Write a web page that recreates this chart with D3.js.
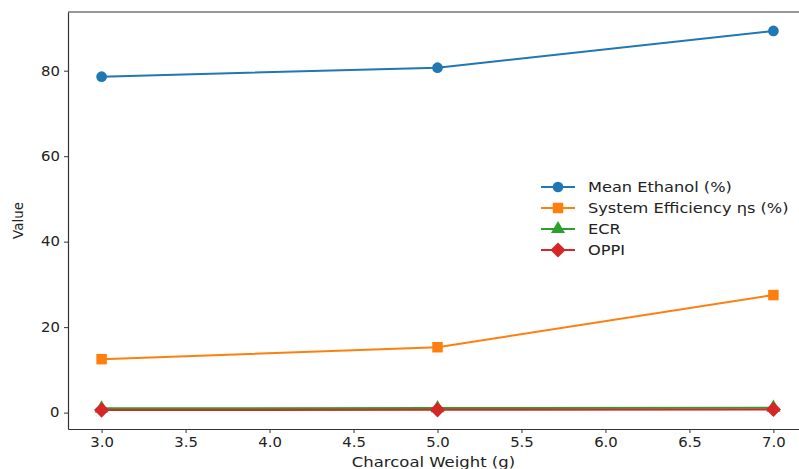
<!DOCTYPE html>
<head>
    <meta charset="utf-8">
    <script src="https://cdn.jsdelivr.net/npm/d3@7"></script>
    <style>
        body { margin: 0; background: #fff; }
        text { font-family: "DejaVu Sans", sans-serif; fill: #222; }
        .wide { transform-box: fill-box; transform-origin: center; }
        .wide-left { transform-box: fill-box; transform-origin: left center; }
    </style>
</head>
<body>
    <div id="chart"></div>
    <script>
        // données
        const weights = [3.0, 5.0, 7.0];
        const meanEthanol = [78.6, 80.7, 89.3];
        const systemEfficiency = [12.5, 15.3, 27.5];
        const ecr = [1.0, 1.05, 1.15];
        const oppi = [0.6, 0.65, 0.75];
        const xTicks = [3.0, 3.5, 4.0, 4.5, 5.0, 5.5, 6.0, 6.5, 7.0];
        const yTicks = [0, 20, 40, 60, 80];

        const series = [
            { name: "Mean Ethanol (%)", values: meanEthanol, color: "#1f77b4", marker: "circle" },
            { name: "System Efficiency ηs (%)", values: systemEfficiency, color: "#ff7f0e", marker: "square" },
            { name: "ECR", values: ecr, color: "#2ca02c", marker: "triangle" },
            { name: "OPPI", values: oppi, color: "#d62728", marker: "diamond" }
        ];

        const width = 799, height = 469;
        const margin = { top: 12, right: -8, bottom: 40, left: 68 };

        const svg = d3.select("#chart").append("svg")
            .attr("width", width)
            .attr("height", height);

        // marges à 5% comme matplotlib
        const allY = series.flatMap(s => s.values);
        const yMin = d3.min(allY), yMax = d3.max(allY);
        const yPad = (yMax - yMin) * 0.05;
        const xPad = (d3.max(weights) - d3.min(weights)) * 0.05;

        const x = d3.scaleLinear()
            .domain([d3.min(weights) - xPad, d3.max(weights) + xPad])
            .range([margin.left, width - margin.right]);

        const y = d3.scaleLinear()
            .domain([yMin - yPad, yMax + yPad])
            .range([height - margin.bottom, margin.top]);

        // axes
        const xAxis = svg.append("g")
            .attr("transform", `translate(0,${height - margin.bottom})`)
            .call(d3.axisBottom(x).tickValues(xTicks).tickFormat(d3.format(".1f"))
                .tickSize(4).tickSizeOuter(0).tickPadding(4));

        const yAxis = svg.append("g")
            .attr("transform", `translate(${margin.left},0)`)
            .call(d3.axisLeft(y).tickValues(yTicks).tickSize(4).tickSizeOuter(0).tickPadding(5));

        [xAxis, yAxis].forEach(a => {
            a.select(".domain").attr("stroke", "#333").attr("stroke-width", 1.2);
            a.selectAll(".tick line").attr("stroke", "#333");
            a.selectAll("text")
                .attr("font-size", 13.5)
                .style("font-family", "DejaVu Sans")
                .attr("fill", "#222")
                .attr("class", "wide")
                .style("transform", "scaleX(1.1)");
        });

        // cadre haut / droit
        svg.append("line")
            .attr("x1", margin.left).attr("x2", width - margin.right)
            .attr("y1", margin.top).attr("y2", margin.top)
            .attr("stroke", "#333").attr("stroke-width", 1.2);
        svg.append("line")
            .attr("x1", width - margin.right).attr("x2", width - margin.right)
            .attr("y1", margin.top).attr("y2", height - margin.bottom)
            .attr("stroke", "#333").attr("stroke-width", 1.2);

        // titres des axes
        svg.append("text")
            .attr("x", (x.range()[0] + x.range()[1]) / 2 - 4)
            .attr("y", height - margin.bottom + 38)
            .attr("text-anchor", "middle")
            .attr("font-size", 13.5)
            .attr("class", "wide")
            .style("transform", "scaleX(1.22)")
            .text("Charcoal Weight (g)");

        svg.append("text")
            .attr("transform", `translate(23,${(margin.top + height - margin.bottom) / 2}) rotate(-90)`)
            .attr("text-anchor", "middle")
            .attr("font-size", 13.5)
            .text("Value");

        const symbols = {
            circle: d3.symbol().type(d3.symbolCircle).size(90),
            square: d3.symbol().type(d3.symbolSquare).size(110),
            triangle: d3.symbol().type(d3.symbolTriangle).size(85),
            diamond: d3.symbol().type(d3.symbolSquare).size(115)
        };
        const rot = m => m === "diamond" ? " rotate(45)" : "";

        const line = d3.line()
            .x((d, i) => x(weights[i]))
            .y(d => y(d));

        const plot = svg.append("g");

        series.forEach(s => {
            plot.append("path")
                .datum(s.values)
                .attr("fill", "none")
                .attr("stroke", s.color)
                .attr("stroke-width", 2)
                .attr("d", line);

            plot.selectAll(null)
                .data(s.values)
                .enter().append("path")
                .attr("transform", (d, i) => `translate(${x(weights[i])},${y(d)})` + rot(s.marker))
                .attr("d", symbols[s.marker])
                .attr("fill", s.color);
        });

        // légende
        const legend = svg.append("g")
            .attr("transform", "translate(541,187)");

        const item = legend.selectAll("g")
            .data(series)
            .enter().append("g")
            .attr("transform", (d, i) => `translate(0,${i * 21})`);

        item.append("line")
            .attr("x1", 0).attr("x2", 34)
            .attr("stroke", d => d.color)
            .attr("stroke-width", 2);

        item.append("path")
            .attr("transform", d => "translate(17,0)" + rot(d.marker))
            .attr("d", d => symbols[d.marker]())
            .attr("fill", d => d.color);

        item.append("text")
            .attr("x", 47)
            .attr("y", 5)
            .attr("font-size", 13.5)
            .attr("class", "wide-left")
            .style("transform", "scaleX(1.2)")
            .text(d => d.name);
    </script>
</body>
